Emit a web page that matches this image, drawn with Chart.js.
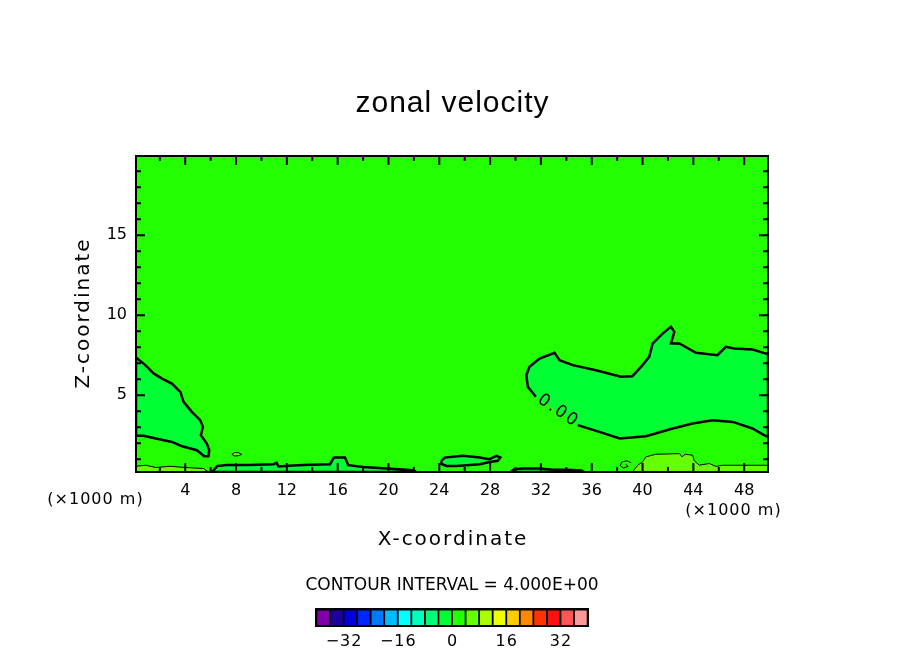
<!DOCTYPE html>
<html>
<head>
<meta charset="utf-8">
<script src="https://cdn.jsdelivr.net/npm/chart.js@4.4.1/dist/chart.umd.min.js"></script>
<style>
    html, body { margin: 0; padding: 0; background: #ffffff; }
    #grafico-velocidad { display: block; }
</style>
</head>
<body>
<canvas id="grafico-velocidad" width="904" height="654" style="width:904px;height:654px"></canvas>
<script>
// Rango de los ejes (x1000 m y z)
const xMin = 0.125, xMax = 49.875;
const zMin = 0.2, zMax = 19.95;

// Marcas de los ejes
const xMarcasMayores = [4, 8, 12, 16, 20, 24, 28, 32, 36, 40, 44, 48];
const xMarcasMenores = [2, 6, 10, 14, 18, 22, 26, 30, 34, 38, 42, 46];
const zMarcasMayores = [5, 10, 15];
const zMarcasMenores = [1, 2, 3, 4, 6, 7, 8, 9, 11, 12, 13, 14, 16, 17, 18, 19];

// Contorno 0 (zona negativa) a la izquierda
const negIzqX = [0.125, 0.86, 1.51, 2.17, 2.95, 3.61, 3.87, 4.52, 5.18, 5.39, 5.23, 5.70, 5.89, 5.83, 5.49, 4.92, 3.74, 2.95, 1.51, 0.72, 0.125, 0.125];
const negIzqZ = [7.36, 6.88, 6.36, 6.04, 5.73, 5.21, 4.58, 3.96, 3.44, 3.02, 2.50, 1.98, 1.56, 1.19, 1.19, 1.56, 1.81, 2.08, 2.33, 2.46, 2.46, 7.36];

// Contorno 0 grande a la derecha (el ultimo tramo queda abierto para la etiqueta)
const negDerX = [31.6, 30.97, 30.85, 31.1, 31.9, 33.07, 33.46, 34.51, 36.33, 38.3, 39.2, 40.0, 40.53, 40.79, 41.58, 42.24, 42.5, 42.24, 42.9, 44.2, 45.9, 46.55, 47.2, 48.65, 49.7, 49.875, 49.875, 49.7, 48.65, 47.1, 45.5, 43.94, 42.37, 40.27, 38.2, 36.6, 34.9, 31.6];
const negDerZ = [4.90, 5.52, 6.25, 6.77, 7.29, 7.65, 7.19, 6.88, 6.56, 6.15, 6.19, 6.88, 7.40, 8.23, 8.85, 9.27, 8.96, 8.23, 8.23, 7.65, 7.50, 8.02, 7.92, 7.85, 7.60, 7.60, 2.40, 2.44, 2.92, 3.33, 3.44, 3.23, 2.92, 2.44, 2.29, 2.71, 3.13, 4.90];

// Franjas negativas cerca del suelo
const franja1X = [6.1, 6.54, 7.27, 9.0, 10.94, 11.2, 11.33, 12.5, 13.3, 15.4, 15.7, 16.57, 16.83, 18.0, 19.85, 21.94, 22.2, 6.1];
const franja1Z = [0.2, 0.58, 0.63, 0.63, 0.69, 0.77, 0.55, 0.60, 0.63, 0.69, 1.10, 1.10, 0.63, 0.52, 0.42, 0.31, 0.2, 0.2];
const islaX = [24.17, 24.43, 25.87, 27.18, 27.96, 28.49, 28.8, 28.6, 27.96, 27.18, 25.35, 24.56, 24.2, 24.17];
const islaZ = [0.90, 1.10, 1.21, 1.10, 1.00, 1.21, 1.10, 0.90, 0.83, 0.69, 0.58, 0.58, 0.70, 0.90];
const franja2X = [29.6, 29.9, 30.6, 31.8, 32.8, 34.0, 35.2, 35.4, 29.6];
const franja2Z = [0.2, 0.38, 0.42, 0.42, 0.36, 0.34, 0.30, 0.2, 0.2];
const arcoX = [15.45, 15.55, 16.0, 16.45, 16.55];
const arcoZ = [0.2, 0.42, 0.52, 0.42, 0.2];

// Contorno 4 (zonas positivas)
const limaIzqX = [0.125, 0.9, 1.7, 2.8, 4.0, 5.44, 5.83, 0.125];
const limaIzqZ = [0.56, 0.62, 0.48, 0.56, 0.48, 0.42, 0.2, 0.2];
const lineaIzqX = [0.125, 2.0, 4.3];
const lineaIzqZ = [0.31, 0.31, 0.29];
const limaDerX = [39.2, 39.62, 40.0, 40.27, 41.06, 42.9, 43.1, 43.37, 43.94, 44.07, 44.47, 45.25, 45.78, 46.3, 49.875, 49.875, 39.2];
const limaDerZ = [0.2, 0.625, 0.83, 1.15, 1.31, 1.35, 1.15, 1.31, 1.25, 0.90, 0.625, 0.73, 0.55, 0.62, 0.62, 0.2, 0.2];
const lineaDerX = [46.0, 49.875];
const lineaDerZ = [0.36, 0.36];
const bucleX = [39.1, 38.75, 38.35, 38.25, 38.5, 38.85, 38.7];
const bucleZ = [0.78, 0.90, 0.82, 0.60, 0.45, 0.55, 0.68];
const puntoX = [7.67, 7.9, 8.2, 8.45, 8.2, 7.9, 7.67];
const puntoZ = [1.30, 1.42, 1.40, 1.30, 1.22, 1.20, 1.30];

// Etiqueta del contorno
const etiquetaTexto = "0.00";
const etiquetaX = 33.3;
const etiquetaZ = 4.05;

// Barra de colores
const nivelesColor = ["#8000a8", "#1e00a0", "#0000dc", "#0026ff", "#0078ff", "#00bbff", "#00ffff", "#00ffbe", "#00ff78", "#00ff33",
                      "#22ff00", "#66ff00", "#aaff00", "#eeff00", "#ffcc00", "#ff8800", "#ff3300", "#ff1111", "#ff5555", "#ff9999"];
const nivelInicial = -40;
const intervalo = 4;
const etiquetasBarra = [-32, -16, 0, 16, 32];

const colorFondo = "#22ff00";
const colorNegativo = "#00ff33";
const colorPositivo = "#66ff00";

function puntos(xs, zs) {
    return xs.map((x, i) => ({ x: x, y: zs[i] }));
}

function contorno(xs, zs, relleno, grosor, hueco) {
    return {
        data: puntos(xs, zs),
        fill: relleno ? 'shape' : false,
        backgroundColor: relleno || 'rgba(0,0,0,0)',
        borderColor: '#000000',
        borderWidth: grosor,
        pointRadius: 0,
        tension: 0,
        segment: {
            borderColor: ctx => (hueco !== undefined && ctx.p0DataIndex === hueco) ? 'rgba(0,0,0,0)' : '#000000'
        }
    };
}

function texto(ctx, t, x, y, fuente, espacio, alinear) {
    ctx.save();
    ctx.font = fuente;
    ctx.fillStyle = '#000000';
    ctx.textBaseline = 'middle';
    ctx.letterSpacing = espacio + 'px';
    let ancho = ctx.measureText(t).width;
    let x0 = x;
    if (alinear === 'center') x0 = x - ancho / 2 + espacio / 2;
    ctx.textAlign = 'left';
    ctx.fillText(t, x0, y);
    ctx.restore();
}

const dibujoExtra = {
    id: 'dibujoExtra',
    beforeDatasetsDraw(chart) {
        const a = chart.chartArea;
        const ctx = chart.ctx;
        ctx.save();
        ctx.fillStyle = colorFondo;
        ctx.fillRect(a.left, a.top, a.right - a.left, a.bottom - a.top);
        ctx.restore();
    },
    afterDatasetsDraw(chart) {
        const a = chart.chartArea;
        const ctx = chart.ctx;
        const sx = chart.scales.x;
        const sy = chart.scales.y;
        ctx.save();
        ctx.strokeStyle = '#000000';
        ctx.lineWidth = 2;
        // marcas hacia dentro
        const marca = (valores, largo, eje) => {
            valores.forEach(v => {
                ctx.beginPath();
                if (eje === 'x') {
                    const px = sx.getPixelForValue(v);
                    ctx.moveTo(px, a.bottom); ctx.lineTo(px, a.bottom - largo);
                    ctx.moveTo(px, a.top); ctx.lineTo(px, a.top + largo);
                } else {
                    const py = sy.getPixelForValue(v);
                    ctx.moveTo(a.left, py); ctx.lineTo(a.left + largo, py);
                    ctx.moveTo(a.right, py); ctx.lineTo(a.right - largo, py);
                }
                ctx.stroke();
            });
        };
        marca(xMarcasMayores, 9, 'x');
        marca(xMarcasMenores, 5, 'x');
        marca(zMarcasMayores, 9, 'y');
        marca(zMarcasMenores, 5, 'y');
        ctx.strokeRect(a.left, a.top, a.right - a.left, a.bottom - a.top);

        // etiqueta del contorno
        const ex = sx.getPixelForValue(etiquetaX);
        const ey = sy.getPixelForValue(etiquetaZ);
        ctx.translate(ex, ey);
        ctx.rotate(34 * Math.PI / 180);
        texto(ctx, etiquetaTexto, 0, 0, '17px "DejaVu Sans"', 2, 'center');
        ctx.restore();
    },
    afterDraw(chart) {
        const ctx = chart.ctx;
        texto(ctx, 'zonal velocity', 452, 104, '30px "Liberation Sans"', 1, 'center');
        texto(ctx, 'X-coordinate', 452, 540, '20px "DejaVu Sans"', 2, 'center');
        texto(ctx, '(×1000 m)', 95, 500, '16px "DejaVu Sans"', 1, 'center');
        texto(ctx, '(×1000 m)', 733, 511, '16px "DejaVu Sans"', 1, 'center');
        ctx.save();
        ctx.translate(84, 314);
        ctx.rotate(-Math.PI / 2);
        texto(ctx, 'Z-coordinate', 0, 0, '20px "DejaVu Sans"', 2, 'center');
        ctx.restore();

        texto(ctx, 'CONTOUR INTERVAL = 4.000E+00', 452, 586, '17px "DejaVu Sans"', 0, 'center');

        // barra de colores
        const x0 = 317.3, paso = 13.56;
        ctx.save();
        ctx.fillStyle = '#000000';
        ctx.fillRect(315, 608, 274, 19);
        nivelesColor.forEach((c, i) => {
            ctx.fillStyle = c;
            ctx.fillRect(x0 + i * paso, 610.5, paso - 1.8, 14.5);
        });
        ctx.restore();
        etiquetasBarra.forEach(v => {
            const k = (v - nivelInicial) / intervalo;
            const px = x0 + k * paso - 0.9;
            const t = v < 0 ? '−' + Math.abs(v) : String(v);
            texto(ctx, t, px, 642, '16px "DejaVu Sans"', 1, 'center');
        });
    }
};

const ctx = document.getElementById("grafico-velocidad").getContext("2d");
window.graficoVelocidad = new Chart(ctx, {
    type: 'line',
    data: {
        datasets: [
            contorno(negDerX, negDerZ, colorNegativo, 2.5, negDerX.length - 2),
            contorno(negIzqX, negIzqZ, colorNegativo, 2.5),
            contorno(franja1X, franja1Z, colorNegativo, 2.5),
            contorno(islaX, islaZ, colorNegativo, 2.5),
            contorno(franja2X, franja2Z, colorNegativo, 2.5),
            contorno(arcoX, arcoZ, null, 2.5),
            contorno(limaIzqX, limaIzqZ, colorPositivo, 1),
            contorno(lineaIzqX, lineaIzqZ, null, 1),
            contorno(limaDerX, limaDerZ, colorPositivo, 1),
            contorno(lineaDerX, lineaDerZ, null, 1),
            contorno(bucleX, bucleZ, null, 1),
            contorno(puntoX, puntoZ, colorPositivo, 1)
        ]
    },
    options: {
        responsive: false,
        devicePixelRatio: 1,
        animation: false,
        events: [],
        layout: { padding: { top: 156, right: 136, left: 0, bottom: 0 } },
        plugins: { legend: { display: false }, tooltip: { enabled: false } },
        scales: {
            x: {
                type: 'linear',
                min: xMin,
                max: xMax,
                grid: { display: false, drawTicks: false },
                border: { display: false },
                ticks: { color: '#000000', font: { family: 'DejaVu Sans', size: 16 }, padding: 9, maxRotation: 0 },
                afterBuildTicks: eje => { eje.ticks = xMarcasMayores.map(v => ({ value: v })); },
                afterFit: eje => { eje.height = 182; }
            },
            y: {
                type: 'linear',
                min: zMin,
                max: zMax,
                grid: { display: false, drawTicks: false },
                border: { display: false },
                ticks: { color: '#000000', font: { family: 'DejaVu Sans', size: 16 }, padding: 9 },
                afterBuildTicks: eje => { eje.ticks = zMarcasMayores.map(v => ({ value: v })); },
                afterFit: eje => { eje.width = 136; }
            }
        }
    },
    plugins: [dibujoExtra]
});
</script>
</body>
</html>
